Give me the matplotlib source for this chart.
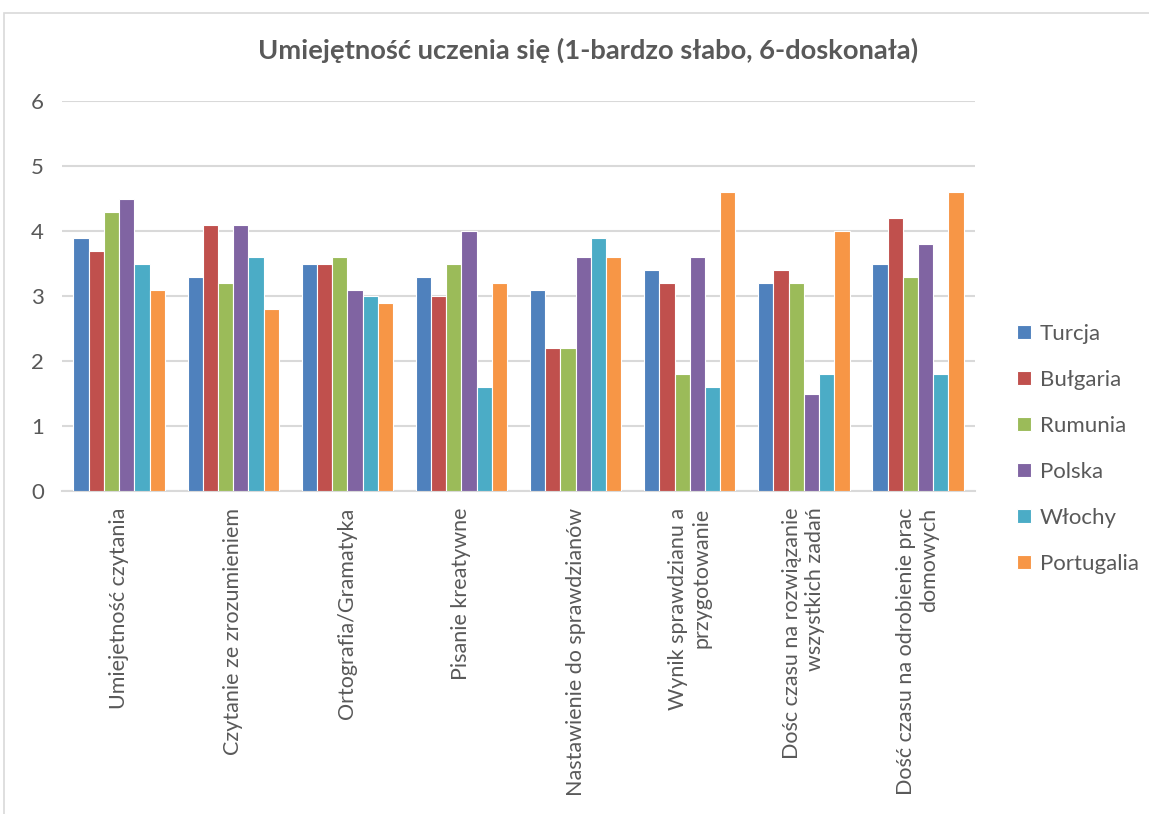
import numpy as np
import matplotlib
matplotlib.use('Agg')
import matplotlib.pyplot as plt
from matplotlib.patches import Rectangle

plt.rcParams['font.family'] = ['Lato', 'DejaVu Sans']

categories = ['Umiejetność czytania',
              'Czytanie ze zrozumieniem',
              'Ortografia/Gramatyka',
              'Pisanie kreatywne',
              'Nastawienie do sprawdzianów',
              'Wynik sprawdzianu a\nprzygotowanie',
              'Dośc czasu na rozwiązanie\nwszystkich zadań',
              'Dość czasu na odrobienie prac\ndomowych']
countries = ['Turcja', 'Bułgaria', 'Rumunia', 'Polska', 'Włochy', 'Portugalia']

turcja = [3.9, 3.3, 3.5, 3.3, 3.1, 3.4, 3.2, 3.5]
bulgaria = [3.7, 4.1, 3.5, 3.0, 2.2, 3.2, 3.4, 4.2]
rumunia = [4.3, 3.2, 3.6, 3.5, 2.2, 1.8, 3.2, 3.3]
polska = [4.5, 4.1, 3.1, 4.0, 3.6, 3.6, 1.5, 3.8]
wlochy = [3.5, 3.6, 3.0, 1.6, 3.9, 1.6, 1.8, 1.8]
portugalia = [3.1, 2.8, 2.9, 3.2, 3.6, 4.6, 4.0, 4.6]

series = [turcja, bulgaria, rumunia, polska, wlochy, portugalia]
colors = ['#4F81BD', '#C0504D', '#9BBB59', '#8064A2', '#4BACC6', '#F79646']

fig = plt.figure(figsize=(11.49, 8.14), dpi=100)
ax = fig.add_axes([0.054, 0.3968, 0.7946, 0.4791])

# outer chart frame
fig.patches.append(Rectangle((4 / 1149, -0.1), 1.2, 1 - 13 / 814 + 0.1,
                             transform=fig.transFigure, fill=False,
                             edgecolor='#D9D9D9', linewidth=1.2))

x = np.arange(len(categories))
gap = 1.5
slot = 1.0 / (len(series) + gap)
for i, (vals, c, name) in enumerate(zip(series, colors, countries)):
    pos = x - 0.5 + slot * gap / 2 + slot * (i + 0.5)
    ax.bar(pos, vals, width=slot, color=c, edgecolor='white', linewidth=0.8,
           label=name, zorder=3)

ax.set_xlim(-0.5, len(categories) - 0.5)
ax.set_ylim(0, 6)
ax.set_yticks(range(0, 7))
ax.yaxis.grid(True, color='#D9D9D9', linewidth=1.5, zorder=0)
ax.set_axisbelow(True)
for s in ['top', 'right', 'left']:
    ax.spines[s].set_visible(False)
ax.spines['bottom'].set_color('#D9D9D9')
ax.spines['bottom'].set_linewidth(1.5)
ax.tick_params(axis='both', length=0, colors='#595959', labelsize=15.5)
ax.tick_params(axis='y', pad=13, labelsize=16)
ax.set_xticks(x)
ax.set_xticklabels(categories, rotation=90, va='top', ha='center',
                   multialignment='right')
ax.tick_params(axis='x', pad=12)

fig.text(0.512, 0.938, 'Umiejętność uczenia się (1-bardzo słabo, 6-doskonała)',
         ha='center', va='center', fontsize=19.7, fontweight='bold', color='#595959')

leg = fig.legend(loc='center left', bbox_to_anchor=(0.868, 0.449), frameon=False,
                 fontsize=16, handlelength=0.6, handleheight=0.6,
                 handletextpad=0.4, labelspacing=1.17, labelcolor='#595959')

fig.savefig('out.png', dpi=100)
